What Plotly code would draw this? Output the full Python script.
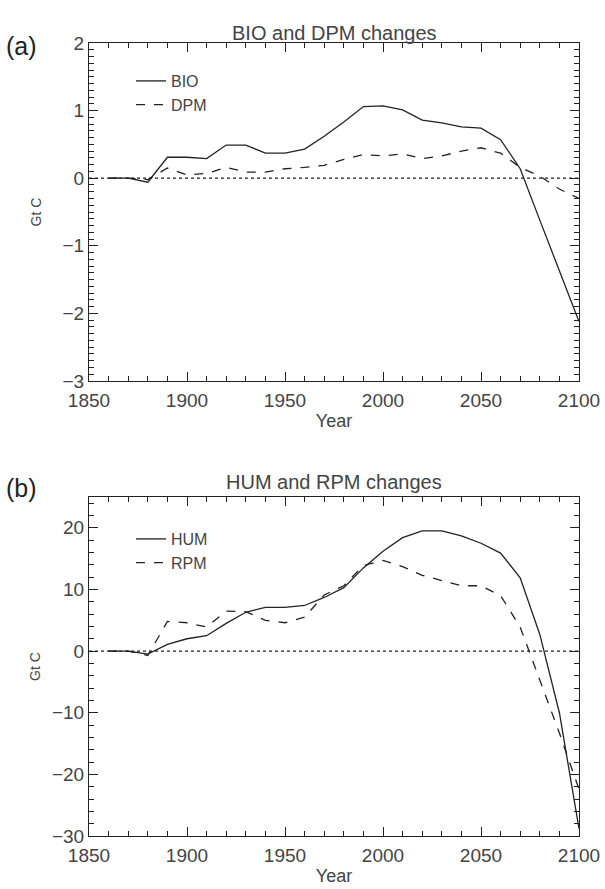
"""Soil carbon pool changes (BIO/DPM, HUM/RPM), two stacked panels."""
import plotly.graph_objects as go

W, H = 605, 889

years = [1860, 1870, 1880, 1890, 1900, 1910, 1920, 1930, 1940, 1950, 1960, 1970,
         1980, 1990, 2000, 2010, 2020, 2030, 2040, 2050, 2060, 2070, 2080, 2090, 2100]

bio = [0, 0, -0.06, 0.31, 0.31, 0.29, 0.49, 0.49, 0.37, 0.37, 0.43, 0.62,
       0.83, 1.06, 1.07, 1.01, 0.86, 0.82, 0.76, 0.74, 0.57, 0.14, -0.62, -1.38, -2.12]
dpm = [0, 0, -0.02, 0.15, 0.05, 0.07, 0.16, 0.09, 0.09, 0.14, 0.16, 0.19,
       0.28, 0.35, 0.33, 0.36, 0.29, 0.33, 0.40, 0.45, 0.37, 0.16, 0.03, -0.16, -0.30]

hum = [0, 0, -0.5, 1.1, 2.0, 2.5, 4.5, 6.3, 7.1, 7.1, 7.4, 8.7,
       10.3, 13.5, 16.2, 18.4, 19.5, 19.5, 18.7, 17.5, 15.9, 11.9, 2.7, -10.0, -28.8]
rpm = [0, 0, -0.7, 4.8, 4.6, 3.9, 6.5, 6.4, 5.0, 4.6, 5.5, 9.1,
       10.6, 13.9, 14.7, 13.7, 12.3, 11.5, 10.6, 10.6, 9.0, 3.9, -4.7, -13.3, -22.4]

panel_titles = ["BIO and DPM changes", "HUM and RPM changes"]
panel_tags = ["(a)", "(b)"]

INK = "#222222"
TXT = "#444444"
FONT = "Liberation Sans, Arial, sans-serif"


def px_x(p):
    return p / W


def px_y(p):
    return 1 - p / H


fig = go.Figure()

# 實線 / 虛線 兩條，各自一個圖例
series = [
    ("x", "y", "legend", "BIO", bio, "solid"),
    ("x", "y", "legend", "DPM", dpm, "dash"),
    ("x2", "y2", "legend2", "HUM", hum, "solid"),
    ("x2", "y2", "legend2", "RPM", rpm, "dash"),
]
for xa, ya, lg, name, vals, dash in series:
    fig.add_trace(go.Scatter(
        x=years, y=vals, mode="lines", name=name, xaxis=xa, yaxis=ya, legend=lg,
        line=dict(color=INK, width=1.3, dash=dash),
    ))

axis_common = dict(
    showgrid=False, zeroline=False, showline=True, linecolor=INK, linewidth=1,
    mirror="allticks", ticks="inside", ticklen=9, tickwidth=1, tickcolor=INK,
    tickfont=dict(size=19, color=TXT, family=FONT), automargin=False,
    ticklabeloverflow="allow",
)
x_common = dict(
    axis_common, range=[1850, 2100], dtick=50, tick0=1850, ticklabelstandoff=2,
    minor=dict(dtick=10, ticks="inside", ticklen=5, tickcolor=INK),
    title=dict(text="Year", font=dict(size=18, color=TXT, family=FONT), standoff=4),
)

# 版面位置（像素 → paper 座標）
xdom = [px_x(89), px_x(579)]
legend_style = dict(xanchor="left", yanchor="top", bgcolor="rgba(0,0,0,0)",
                    font=dict(size=16, color=TXT, family=FONT),
                    itemwidth=30, tracegroupgap=0)
fig.update_layout(
    template="none",
    width=W, height=H, margin=dict(l=0, r=0, t=0, b=0, pad=0),
    paper_bgcolor="white", plot_bgcolor="white",
    font=dict(family=FONT, color=TXT),
    showlegend=True,
    xaxis=dict(x_common, domain=xdom, anchor="y"),
    yaxis=dict(axis_common, domain=[px_y(381), px_y(43)], anchor="x",
               range=[-3, 2], dtick=1,
               minor=dict(dtick=0.1, ticks="inside", ticklen=5, tickcolor=INK),
               title=dict(text="Gt C", font=dict(size=14, color=TXT, family=FONT),
                          standoff=17)),
    xaxis2=dict(x_common, domain=xdom, anchor="y2"),
    yaxis2=dict(axis_common, domain=[px_y(836), px_y(497)], anchor="x2",
                range=[-30, 25], dtick=10,
                minor=dict(dtick=2, ticks="inside", ticklen=5, tickcolor=INK),
                title=dict(text="Gt C", font=dict(size=14, color=TXT, family=FONT),
                           standoff=8)),
    legend=dict(legend_style, x=px_x(131), y=px_y(64)),
    legend2=dict(legend_style, x=px_x(131), y=px_y(522)),
)

# y=0 的點線
for ya, xa in [("y", "x"), ("y2", "x2")]:
    fig.add_shape(type="line", xref=f"{xa} domain", yref=ya, x0=0, x1=1, y0=0, y1=0,
                  line=dict(color=INK, width=1.2, dash="dot"))

# 面板標題與 (a)/(b)
for title, tag, ty, tagy in zip(panel_titles, panel_tags, [20, 482], [30, 488]):
    fig.add_annotation(text=title, xref="paper", yref="paper", x=px_x(334), y=px_y(ty),
                       showarrow=False, font=dict(size=20, color=TXT, family=FONT))
    fig.add_annotation(text=tag, xref="paper", yref="paper", x=px_x(4), y=px_y(tagy),
                       xanchor="left", showarrow=False,
                       font=dict(size=25, color=INK, family=FONT))

# 頁面預設 body margin 會讓圖偏移並出現捲軸，歸零
fig.write_html(
    "out.html",
    config={"displayModeBar": False},
    post_script="document.body.style.margin='0';document.body.style.overflow='hidden';",
)
